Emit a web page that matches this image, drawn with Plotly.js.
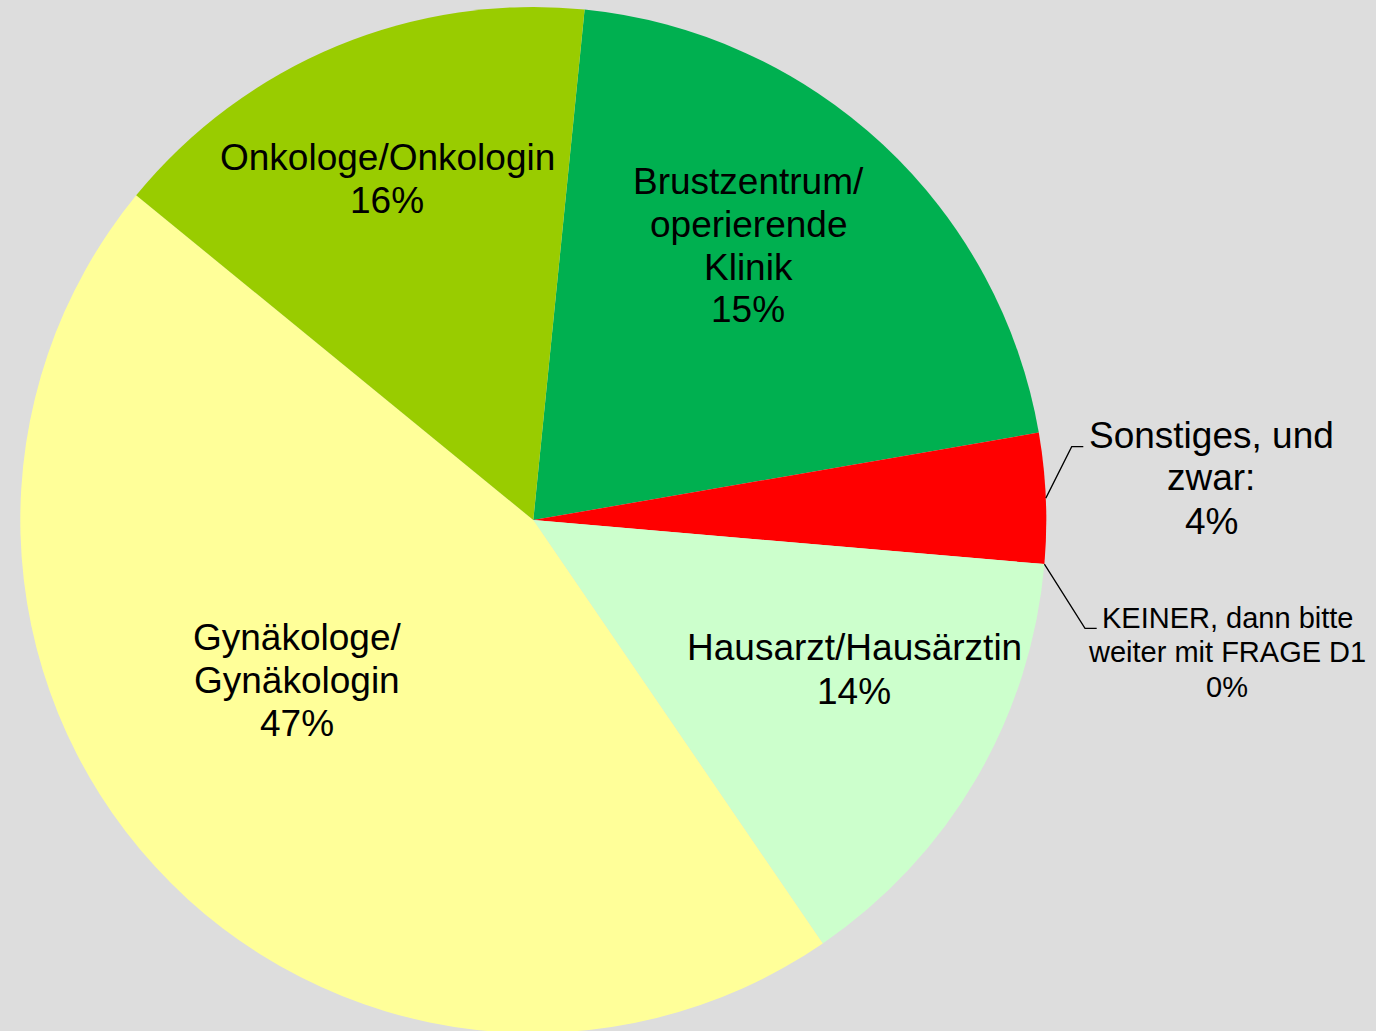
<!DOCTYPE html>
<html>
<head>
<meta charset="utf-8">
<script src="https://cdn.plot.ly/plotly-3.0.1.min.js"></script>
<style>
  html, body { margin: 0; padding: 0; overflow: hidden; background: #dddddd; }
  #chart { width: 1376px; height: 1033px; }
</style>
</head>
<body>
<div id="chart"></div>
<script>
// ---- Data (slice order, clockwise from the top) ----
var categories = [
  "Brustzentrum/<br>operierende<br>Klinik",
  "Sonstiges, und<br>zwar:",
  "KEINER, dann bitte<br>weiter mit FRAGE D1",
  "Hausarzt/Hausärztin",
  "Gynäkologe/<br>Gynäkologin",
  "Onkologe/Onkologin"
];
// share of the circle each slice occupies in the picture
var sliceValues = [20.7, 4.1, 0, 14.1, 45.5, 15.7];
// percentages printed on the labels
var labelPercents = [15, 4, 0, 14, 47, 16];
var sliceColors = ["#00B050", "#FF0000", "#FFFFFF", "#CCFFCC", "#FFFF99", "#99CC00"];

// ---- Layout / style (pixels) ----
var W = 1376, H = 1033;
var M = {l: 0, r: 0, t: 7, b: 0};
var plotW = W - M.l - M.r, plotH = H - M.t - M.b;
var pieCx = 533.3, pieR = 513;
var rotation = 5.74;
var FONT = "Liberation Sans, Arial, sans-serif";

function px2x(px) { return (px - M.l) / plotW; }
function py2y(py) { return (H - M.b - py) / plotH; }

var pieCy = M.t + plotH / 2;

// label placement: [centre x, first-line y, line spacing, font size]
var labelPos = [
  [748, 181, 43, 37],
  [1211, 435, 43, 37],
  [1227, 618, 34.3, 29],
  [854, 647, 44.5, 37],
  [297, 637, 43.3, 37],
  [387, 157.5, 43.2, 37]
];

var annotations = [];
categories.forEach(function (cat, i) {
  var lines = cat.split("<br>").concat([labelPercents[i] + "%"]);
  var p = labelPos[i];
  lines.forEach(function (ln, k) {
    annotations.push({
      xref: "paper", yref: "paper",
      x: px2x(p[0]), y: py2y(p[1] + k * p[2]),
      xanchor: "center", yanchor: "middle",
      text: ln, showarrow: false,
      font: {family: FONT, size: p[3], color: "#000000"}
    });
  });
});

// leader lines for the small slices, starting on the pie edge at the slice angle
var total = sliceValues.reduce(function (a, b) { return a + b; }, 0);
function edgePoint(idx) {
  var cum = 0;
  for (var j = 0; j < idx; j++) cum += sliceValues[j];
  var theta = (rotation + 360 * (cum + sliceValues[idx] / 2) / total) * Math.PI / 180;
  return [pieCx + pieR * Math.sin(theta), pieCy - pieR * Math.cos(theta)];
}
var leaders = [
  {idx: 1, elbow: [1071.7, 446.7], end: [1083.3, 446.7]},
  {idx: 2, elbow: [1085, 628.3], end: [1096.7, 628.3]}
];
var shapes = leaders.map(function (L) {
  var s = edgePoint(L.idx);
  return {
    type: "path", xref: "paper", yref: "paper",
    path: "M " + px2x(s[0]) + "," + py2y(s[1]) +
          " L " + px2x(L.elbow[0]) + "," + py2y(L.elbow[1]) +
          " L " + px2x(L.end[0]) + "," + py2y(L.end[1]),
    line: {color: "#000000", width: 1.3}
  };
});

var trace = {
  type: "pie",
  labels: categories,
  values: sliceValues,
  sort: false,
  direction: "clockwise",
  rotation: rotation,
  marker: {colors: sliceColors, line: {width: 0}},
  textinfo: "none",
  hoverinfo: "none",
  showlegend: false,
  domain: {
    x: [px2x(pieCx - pieR), px2x(pieCx + pieR)],
    y: [0, 1]
  }
};

var layout = {
  width: W, height: H,
  margin: M,
  paper_bgcolor: "#dddddd",
  plot_bgcolor: "#dddddd",
  showlegend: false,
  annotations: annotations,
  shapes: shapes
};

Plotly.newPlot("chart", [trace], layout, {displayModeBar: false, staticPlot: true});
</script>
</body>
</html>
